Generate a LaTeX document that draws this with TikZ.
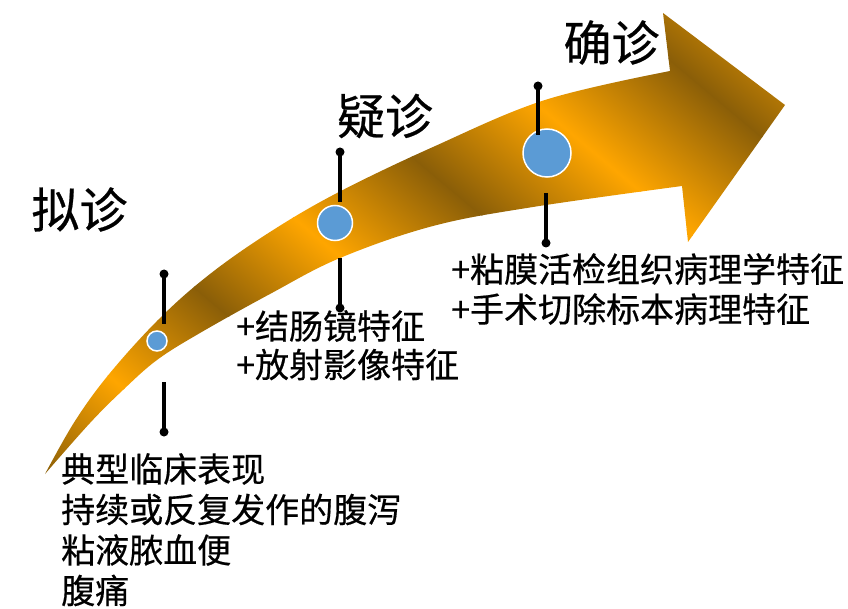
\documentclass[tikz,border=0pt]{standalone}
\usepackage{fontspec}
\newfontfamily\cjk[FakeBold=0.5]{Noto Sans CJK SC}
\definecolor{gdark}{RGB}{138,94,8}
\definecolor{gbright}{RGB}{255,166,0}
\definecolor{circ}{RGB}{91,155,213}
\begin{document}
\begin{tikzpicture}[x=1pt,y=-1pt,
  pinline/.style={line width=4pt},
  pindot/.style={circle,fill=black,inner sep=0pt,minimum size=9pt},
  stage/.style={circle,fill=circ,draw=white,line width=1.5pt,inner sep=0pt},
  title/.style={font=\cjk\fontsize{48}{58}\selectfont,inner sep=0pt},
  body/.style={font=\cjk\fontsize{34}{40.5}\selectfont,inner sep=0pt,align=left,anchor=north west},
]
\useasboundingbox (0,0) rectangle (848,609);
% curved gradient arrow
\begin{scope}
\clip plot[smooth,tension=0.6] coordinates {(45,474) (75,421) (110,373) (160,318) (210,274) (270,232) (337,193) (433,147) (545,100) (670,71)}
  -- (663,13) -- (785,105) -- (688,242)
  -- plot[smooth,tension=0.6] coordinates {(682,186) (533,207) (433,226) (340,258) (270,294) (200,333) (157,360) (123,390) (90,423) (45,474)}
  -- cycle;
\begin{scope}[transform canvas={rotate=50}]
\foreach \a/\b/\ca/\cb in {-460/-335/gbright/gdark,-335/-218/gdark/gbright,-218/-95/gbright/gdark,-95/22/gdark/gbright,22/145/gbright/gdark,145/265/gdark/gbright,265/385/gbright/gdark,385/505/gdark/gbright}
  \shade[left color=\ca,right color=\cb] (\a-0.6,-1500) rectangle (\b+0.6,1500);
\end{scope}
\end{scope}
% stage circles
\node[stage,minimum size=20pt] (c1) at (157,341) {};
\node[stage,minimum size=35pt] (c2) at (335,223) {};
\node[stage,minimum size=48pt] (c3) at (547,153) {};
% pins
\node[pindot] (d1a) at (164,274) {};
\coordinate (e1a) at (164,324);
\coordinate (e1b) at (164,382);
\node[pindot] (d1b) at (164,432) {};
\node[pindot] (d2a) at (340,152) {};
\coordinate (e2a) at (340,202);
\coordinate (e2b) at (340,258);
\node[pindot] (d2b) at (340,308) {};
\node[pindot] (d3a) at (538,86) {};
\coordinate (e3a) at (538,135);
\coordinate (e3b) at (546,193);
\node[pindot] (d3b) at (546,243) {};
\draw[pinline] (d1a.center) -- (e1a);
\draw[pinline] (e1b) -- (d1b.center);
\draw[pinline] (d2a.center) -- (e2a);
\draw[pinline] (e2b) -- (d2b.center);
\draw[pinline] (d3a.center) -- (e3a);
\draw[pinline] (e3b) -- (d3b.center);
% titles
\node[title] (t1) at (79.5,209.5) {拟诊};
\node[title] (t2) at (385,116) {疑诊};
\node[title] (t3) at (611.5,42.5) {确诊};
% texts
\node[body] (b1) at (61,453) {典型临床表现\\持续或反复发作的腹泻\\粘液脓血便\\腹痛};
\node[body,font=\cjk\fontsize{34}{38.5}\selectfont] (b2) at (236,310) {+结肠镜特征\\+放射影像特征};
\node[body,font=\cjk\fontsize{34}{40}\selectfont] (b3) at (451,253) {+粘膜活检组织病理学特征\\+手术切除标本病理特征};
\end{tikzpicture}
\end{document}
